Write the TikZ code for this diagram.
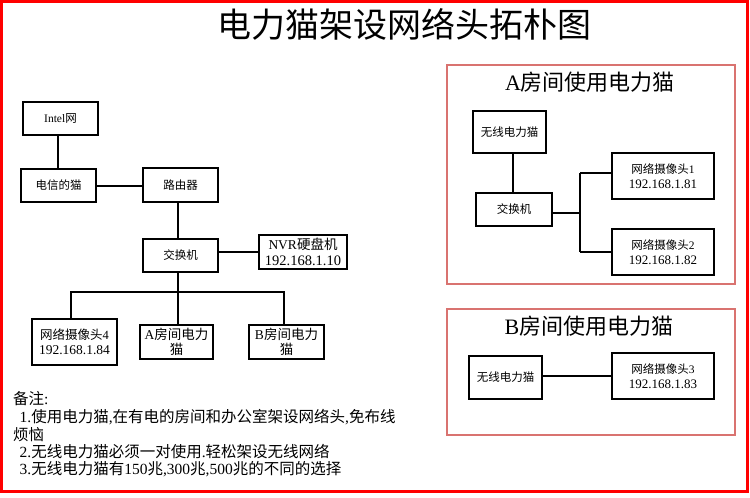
\documentclass[tikz,border=0pt]{standalone}
\usepackage{fontspec}
\usetikzlibrary{calc}
\setmainfont{Noto Sans CJK SC}
\newfontfamily\lat{Liberation Serif}
\definecolor{roomred}{RGB}{217,115,112}
\newcommand{\fs}[2]{\fontsize{#1}{#2}\selectfont}
\begin{document}
\begin{tikzpicture}[x=1pt,y=-1pt,
  bx/.style n args={2}{draw,line width=2pt,inner sep=0pt,align=center,
     minimum width=#1,minimum height=#2},
  room/.style n args={2}{draw=roomred,line width=2.6pt,inner sep=0pt,
     minimum width=#1,minimum height=#2},
  ln/.style={line width=2pt},
  small/.style={font=\fs{11.5}{14.5}},
  mid/.style={font=\fs{12.5}{15.5}},
  big/.style={font=\fs{13.5}{15.5}},
  note/.style={anchor=west,inner sep=0pt,font=\fs{15.5}{18}}]
\useasboundingbox (0,0) rectangle (750,498);
\draw[red,line width=3pt] (1.5,1.5) rectangle (747,491);

% title
\node[font=\fs{34}{40}] (title) at (404,24) {电力猫架设网络头拓朴图};

% main topology
\node[bx={75pt}{33pt},small] (intel) at (60.5,118.5) {{\lat Intel}网};
\node[bx={75pt}{33pt},small] (dx) at (58.5,185.5) {电信的猫};
\node[bx={75pt}{34pt},small] (rt) at (180.5,185) {路由器};
\node[bx={75pt}{33pt},small] (sw) at (180.5,255.5) {交换机};
\node[bx={88pt}{34pt},big] (nvr) at (303,252) {{\lat NVR}硬盘机\\{\lat\fs{14.5}{15.5}192.168.1.10}};
\node[bx={85pt}{46pt},mid] (cam4) at (74.5,342) {网络摄像头{\lat 4}\\{\lat\fs{13.5}{15.5}192.168.1.84}};
\node[bx={73pt}{34pt},big] (aroom) at (176.5,342) {{\lat A}房间电力\\猫};
\node[bx={75pt}{34pt},big] (broom) at (286.5,342) {{\lat B}房间电力\\猫};

\coordinate (v1) at (178,0);
\coordinate (bus) at (0,292);
\coordinate (c4) at (71,0);
\coordinate (cb) at (284,0);
\coordinate (vi) at (58,0);
\coordinate (h1) at (0,186);

\draw[ln] (intel.south -| vi) -- (dx.north -| vi);
\draw[ln] (dx.east |- h1) -- (rt.west |- h1);
\draw[ln] (rt.south -| v1) -- (sw.north -| v1);
\draw[ln] (nvr.west) -- (sw.east |- nvr.west);
\draw[ln] (sw.south -| v1) -- (aroom.north -| v1);
\draw[ln] (cam4.north -| c4) -- (bus -| c4) -- (bus -| cb) -- (broom.north -| cb);

% room A
\node[room={288pt}{219pt}] (ra) at (591,174.5) {};
\node[font=\fs{22}{26}] (ratitle) at (590,81.7) {{\lat A}房间使用电力猫};
\node[bx={73pt}{42pt},small] (wa) at (509.5,132) {无线电力猫};
\node[bx={76pt}{33pt},small] (swa) at (514,209.5) {交换机};
\node[bx={102pt}{46pt},small] (cam1) at (663,176) {网络摄像头{\lat 1}\\{\lat\fs{13}{14.5}192.168.1.81}};
\node[bx={102pt}{46pt},small] (cam2) at (663,252) {网络摄像头{\lat 2}\\{\lat\fs{13}{14.5}192.168.1.82}};
\coordinate (va) at (513,0);
\coordinate (ja) at (580,213);
\coordinate (j1) at (580,173);
\coordinate (j2) at (580,252);
\draw[ln] (wa.south -| va) -- (swa.north -| va);
\draw[ln] (swa.east |- ja) -- (ja);
\draw[ln] (j1) -- (j2);
\draw[ln] (j1) -- (cam1.west |- j1);
\draw[ln] (j2) -- (cam2.west |- j2);

% room B
\node[room={288pt}{126pt}] (rb) at (591,372) {};
\node[font=\fs{22}{26}] (rbtitle) at (589,326) {{\lat B}房间使用电力猫};
\node[bx={73pt}{43pt},small] (wb) at (505.5,377.5) {无线电力猫};
\node[bx={102pt}{46pt},small] (cam3) at (663,376) {网络摄像头{\lat 3}\\{\lat\fs{13}{14.5}192.168.1.83}};
\coordinate (h3) at (0,376);
\draw[ln] (wb.east |- h3) -- (cam3.west |- h3);

% notes
\node[note] (n0) at (13,398.7) {备注{\lat :}};
\node[note] (n1) at (19.5,416.7) {{\lat 1.}使用电力猫{\lat ,}在有电的房间和办公室架设网络头{\lat ,}免布线};
\node[note] (n1b) at (13,435) {烦恼};
\node[note] (n2) at (19.5,451.5) {{\lat 2.}无线电力猫必须一对使用{\lat .}轻松架设无线网络};
\node[note] (n3) at (19.5,469.3) {{\lat 3.}无线电力猫有{\lat 150}兆{\lat ,300}兆{\lat ,500}兆的不同的选择};
\end{tikzpicture}
\end{document}
